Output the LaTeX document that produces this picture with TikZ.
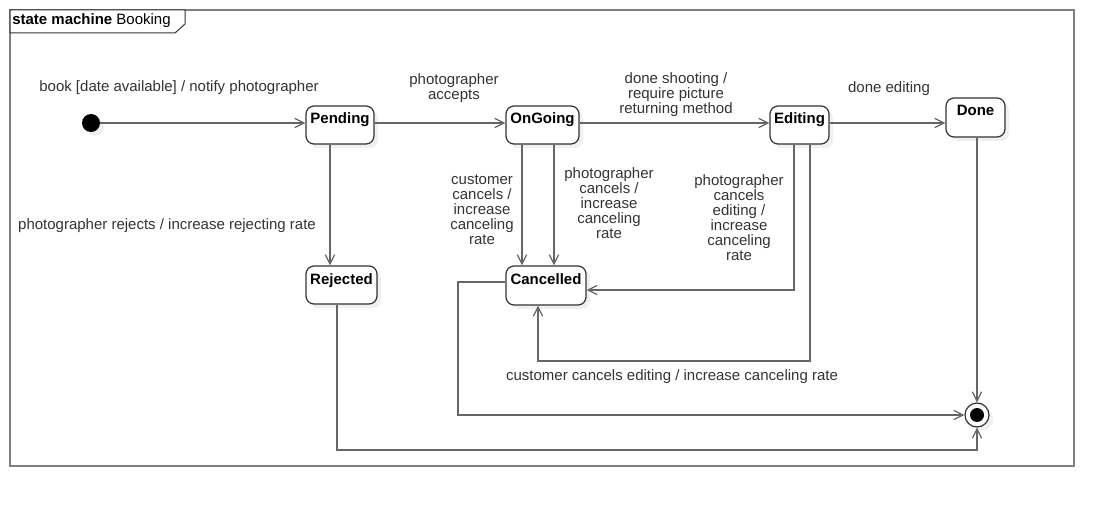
\documentclass[tikz,border=0pt]{standalone}
\usepackage{fontspec}
\setsansfont{Liberation Sans}
\usetikzlibrary{arrows.meta}
\usetikzlibrary{shapes, shadows}

\definecolor{lineGray}{HTML}{666666}
\definecolor{textGray}{HTML}{333333}
\definecolor{frameGray}{HTML}{808080}

\begin{document}
\begin{tikzpicture}[x = 0.75pt, y = -0.75pt, font=\sffamily\fontsize{11.25pt}{11.25pt}\selectfont]
	\tikzstyle{shadowStyle}=[drop shadow={opacity=0.12, shadow xshift=3pt, shadow yshift=-3pt}]
	\tikzstyle{stateStyle}=[shape = rectangle, rounded corners = 6pt, draw = textGray, line width = 0.9pt, fill = white, inner xsep = 0pt, inner ysep = 0pt, text height = 13.5pt, text depth = 15pt, font = \sffamily\fontsize{11.25pt}{11.25pt}\selectfont\bfseries, shadowStyle]
	\tikzstyle{pseudoStyle}=[shape = circle, inner sep = 0pt, shadowStyle]
	\tikzstyle{labelStyle}=[align = center, text = textGray, inner sep = 0pt]
	\tikzstyle{transStyle}=[draw = lineGray, line width = 0.9pt, -{Straight Barb[length = 7pt, width = 7pt]}]
	\useasboundingbox (0,0) rectangle (1114,506);
	% frame
	\draw[frameGray, line width = 1.5pt] (10,10) rectangle (1074,466);
	\draw[textGray, line width = 0.75pt, fill = white] (10,10) -- (185,10) -- (185,24) -- (175,33) -- (10,33) -- cycle;
	\node[anchor = west, inner sep = 0pt] (title) at (12,21) {\textbf{state machine} Booking};
	% states
	\node[pseudoStyle, fill = black, minimum size = 13.5pt] (init) at (91,123) {};
	\node[stateStyle, minimum width = 51pt] (pend) at (340,125) {Pending};
	\node[stateStyle, minimum width = 54.75pt] (ongo) at (542.5,125) {OnGoing};
	\node[stateStyle, minimum width = 44.25pt] (edit) at (799.5,125) {Editing};
	\node[stateStyle, minimum width = 44.25pt, text depth = 15.75pt] (done) at (975.5,117.5) {Done};
	\node[stateStyle, minimum width = 53.25pt] (rej) at (341.5,285) {Rejected};
	\node[stateStyle, minimum width = 60pt, text depth = 15.75pt] (canc) at (546,285.5) {Cancelled};
	\node[pseudoStyle, draw = textGray, line width = 0.9pt, fill = white, minimum size = 18pt] (fin) at (977,415) {};
	\fill (fin) circle [radius = 5.25pt];
	% bend points
	\coordinate (xrej) at (330,0);
	\coordinate (xcc) at (522,0);
	\coordinate (xpc) at (554,0);
	\coordinate (ec) at (794,290);
	\coordinate (ce) at (810,0);
	\coordinate (cee) at (538,361);
	\coordinate (cf) at (458,282);
	\coordinate (rf) at (337,450);
	% transitions
	\draw[transStyle] (init) -- (pend.west |- init);
	\draw[transStyle] (pend.east |- init) -- (ongo.west |- init);
	\draw[transStyle] (ongo.east |- init) -- (edit.west |- init);
	\draw[transStyle] (edit.east |- init) -- (done.west |- init);
	\draw[transStyle] (pend.south -| xrej) -- (rej.north -| xrej);
	\draw[transStyle] (ongo.south -| xcc) -- (canc.north -| xcc);
	\draw[transStyle] (ongo.south -| xpc) -- (canc.north -| xpc);
	\draw[transStyle] (edit.south -| ec) |- (canc.east |- ec);
	\draw[transStyle] (edit.south -| ce) |- (cee) -- (canc.south -| cee);
	\draw[transStyle] (canc.west |- cf) -- (cf) |- (fin.west);
	\draw[transStyle] (rej.south -| rf) -- (rf) -| (fin.south);
	\draw[transStyle] (done.south -| fin) -- (fin.north);
	% labels
	\node[labelStyle] (l1) at (179,88) {book [date available] / notify photographer};
	\node[labelStyle] (l2) at (454,88) {photographer\\accepts};
	\node[labelStyle] (l3) at (676,95) {done shooting /\\require picture\\returning method};
	\node[labelStyle] (l4) at (889,89) {done editing};
	\node[labelStyle] (l5) at (167,226) {photographer rejects / increase rejecting rate};
	\node[labelStyle] (l6) at (482,210) {customer\\cancels /\\increase\\canceling\\rate};
	\node[labelStyle] (l7) at (609,203) {photographer\\cancels /\\increase\\canceling\\rate};
	\node[labelStyle] (l8) at (739,218) {photographer\\cancels\\editing /\\increase\\canceling\\rate};
	\node[labelStyle] (l9) at (672,377) {customer cancels editing / increase canceling rate};
\end{tikzpicture}
\end{document}
